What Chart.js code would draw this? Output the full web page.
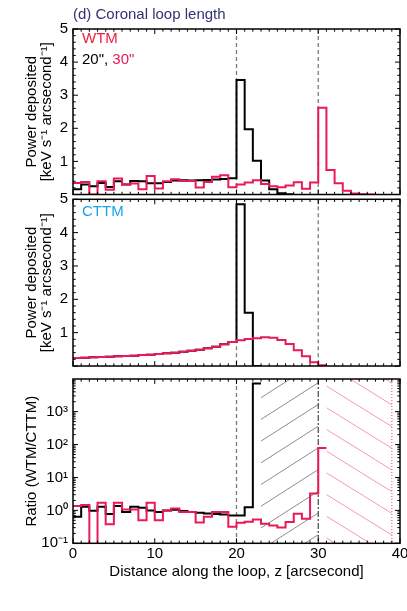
<!DOCTYPE html>
<html><head><meta charset="utf-8">
<script src="https://cdn.jsdelivr.net/npm/chart.js@4.4.1/dist/chart.umd.min.js"></script>
<style>
html,body{margin:0;padding:0;background:#fff;}
body{width:407px;height:611px;position:relative;overflow:hidden;font-family:"Liberation Sans",Arial,Helvetica,sans-serif;}
canvas{position:absolute;left:0;}
.lbl{position:absolute;font-size:15px;line-height:15px;white-space:nowrap;}
</style></head><body>
<canvas id="c1" width="407" height="212" style="top:0"></canvas>
<canvas id="c2" width="407" height="196" style="top:180px"></canvas>
<canvas id="c3" width="407" height="256" style="top:355px"></canvas>
<div class="lbl" style="left:73px;top:6px;color:#323278">(d) Coronal loop length</div>
<div class="lbl" style="left:82px;top:30px;color:#ee1d3c">WTM</div>
<div class="lbl" style="left:82px;top:51px;color:#000">20",&nbsp;<span style="color:#e91a56">30"</span></div>
<div class="lbl" style="left:82px;top:203px;color:#1aa3e6">CTTM</div>
<script>
// ---- data (bins of 1 arcsec starting at z = 0) ----
const wtm20 = [0.16,0.30,0.25,0.35,0.23,0.40,0.30,0.41,0.40,0.34,
               0.34,0.38,0.42,0.43,0.42,0.43,0.44,0.45,0.47,0.49,
               3.46,1.97,1.02,0.42,0.16,0.04,0.01];
const wtm30 = [0.35,0.38,0.00,0.40,0.14,0.48,0.30,0.33,0.16,0.56,
               0.18,0.40,0.46,0.41,0.41,0.21,0.38,0.54,0.58,0.22,
               0.30,0.36,0.43,0.32,0.25,0.22,0.27,0.37,0.17,0.36,
               2.62,0.74,0.34,0.11,0.03,0.01,0.00];
const cttm20 = [0.24,0.25,0.26,0.27,0.28,0.29,0.30,0.31,0.33,0.34,
                0.36,0.38,0.40,0.43,0.46,0.49,0.53,0.58,0.65,0.72,
                4.85,1.60,0.00];
const cttm30 = [0.24,0.25,0.26,0.27,0.28,0.29,0.30,0.31,0.33,0.34,
                0.36,0.38,0.40,0.43,0.46,0.49,0.53,0.58,0.65,0.72,
                0.77,0.81,0.83,0.86,0.85,0.78,0.66,0.47,0.29,0.11,0.02];
const ratio20 = [0.64,1.29,0.98,1.30,0.77,1.35,0.90,1.30,1.20,1.00,
                 0.90,1.00,1.05,0.95,0.90,0.85,0.80,0.78,0.75,0.70,
                 0.70,1.25,7200];
const ratio30 = [1.35,1.45,0.05,1.70,0.38,1.70,1.07,1.07,0.50,1.70,
                 0.50,1.00,1.15,0.90,0.90,0.43,0.64,0.90,0.90,0.32,
                 0.42,0.45,0.53,0.39,0.35,0.30,0.44,0.79,0.56,3.27,79];
const xTickValues = [0,10,20,30,40];
const linTickValues = [1,2,3,4,5];
const logTickValues = [0.1,1,10,100,1000];
const logTickLabels = ['10\u207B\u00B9','10\u2070','10\u00B9','10\u00B2','10\u00B3'];
const loopLines = [20,30];
const ratioLines = [20,30,39];
const hatch20 = [23,30];
const hatch30 = [31,39];

// ---- helpers ----
const RED = '#e91a56', BLACK = '#000000';
function steps(vals){
  const pts = vals.map((v,i)=>({x:i,y:v}));
  pts.push({x:vals.length,y:vals[vals.length-1]});
  return pts;
}
function hist(vals,color,order){
  return {data:steps(vals),borderColor:color,borderWidth:2,pointRadius:0,stepped:true,fill:false,order:order,tension:0};
}
const xMinor=[]; for(let v=1;v<40;v++) if(v%10) xMinor.push(v);
const linMinor=[]; for(let k=1;k<25;k++) if(k%5) linMinor.push(k/5);
const logMinor=[]; logTickValues.forEach(d=>{for(let m=2;m<=9;m++) if(d*m<9800) logMinor.push(d*m);});

Chart.defaults.color='#000';
Chart.defaults.font.family='"Liberation Sans", Arial, Helvetica, sans-serif';
Chart.defaults.font.size=15;

const frameTicks={
  id:'frameTicks',
  afterDatasetsDraw(chart,args,o){
    const {ctx,chartArea:a,scales:{x,y}}=chart;
    ctx.save();
    ctx.strokeStyle='#000'; ctx.lineWidth=1;
    const tx=(vals,len)=>vals.forEach(v=>{
      const p=x.getPixelForValue(v);
      ctx.beginPath();ctx.moveTo(p,a.bottom);ctx.lineTo(p,a.bottom-len);
      ctx.moveTo(p,a.top);ctx.lineTo(p,a.top+len);ctx.stroke();});
    const ty=(vals,len)=>vals.forEach(v=>{
      const p=y.getPixelForValue(v);
      ctx.beginPath();ctx.moveTo(a.left,p);ctx.lineTo(a.left+len,p);
      ctx.moveTo(a.right,p);ctx.lineTo(a.right-len,p);ctx.stroke();});
    tx(o.xMajor,5);tx(o.xMinor,2.7);ty(o.yMajor,5);ty(o.yMinor,2.7);
    ctx.lineWidth=1.5;
    ctx.strokeRect(a.left,a.top,a.right-a.left,a.bottom-a.top);
    ctx.restore();
  }
};
const vlines={
  id:'vlines',
  beforeDatasetsDraw(chart,args,o){
    const {ctx,chartArea:a,scales:{x}}=chart;
    o.lines.forEach(l=>{
      const p=x.getPixelForValue(l.x);
      ctx.save();ctx.strokeStyle=l.color;ctx.lineWidth=l.width;ctx.setLineDash(l.dash);
      ctx.beginPath();ctx.moveTo(p,a.top);ctx.lineTo(p,a.bottom);ctx.stroke();ctx.restore();
    });
  }
};
const hatch={
  id:'hatch',
  beforeDatasetsDraw(chart,args,o){
    const {ctx,chartArea:a,scales:{x}}=chart;
    (o.regions||[]).forEach(r=>{
      const x1=x.getPixelForValue(r.range[0]), x2=x.getPixelForValue(r.range[1]);
      const w=x2-x1, m=r.slope, sp=r.spacing;
      ctx.save();
      ctx.beginPath();ctx.rect(x1,a.top,w,a.bottom-a.top);ctx.clip();
      ctx.strokeStyle=r.color;ctx.lineWidth=0.8;
      const phase=a.top+r.offset;
      const cMin=a.top-m*w-sp, cMax=a.bottom+m*w+sp;
      let c=phase-Math.ceil((phase-cMin)/sp)*sp;
      for(;c<=cMax;c+=sp){
        ctx.beginPath();ctx.moveTo(x1,c);ctx.lineTo(x2,c+r.dir*m*w);ctx.stroke();
      }
      ctx.restore();
    });
  }
};

function yLin(title){
  return {type:'linear',min:0,max:5,
    afterBuildTicks:s=>{s.ticks=linTickValues.map(v=>({value:v}));},
    afterFit:s=>{s.width=73;s.paddingTop=0;s.paddingBottom=0;},
    grid:{display:false,drawTicks:false},border:{display:false},
    ticks:{padding:5,autoSkip:false},
    title:{display:true,text:title,font:{size:15,lineHeight:1},padding:{top:24.5,bottom:0}}};
}
const xHidden={type:'linear',min:0,max:40,display:false};
const dashGray={color:'#7a7a7a',width:1.3,dash:[4,3]};
const powerTitle=['Power deposited','[keV s\u207B\u00B9 arcsecond\u207B\u00B9]'];

function common(padTop,padBottom,extraPlugins){
  return {responsive:false,animation:false,events:[],
    layout:{padding:{top:padTop,bottom:padBottom,left:0,right:7}},
    plugins:Object.assign({legend:{display:false},tooltip:{enabled:false}},extraPlugins)};
}

// Top panel: WTM
new Chart(document.getElementById('c1'),{
  type:'line',
  data:{datasets:[hist(wtm30,RED,0),hist(wtm20,BLACK,1)]},
  options:Object.assign(common(29,17.5,{
    frameTicks:{xMajor:xTickValues,xMinor:xMinor,yMajor:[0].concat(linTickValues),yMinor:linMinor},
    vlines:{lines:loopLines.map(v=>Object.assign({x:v},dashGray))}
  }),{scales:{x:xHidden,y:yLin(powerTitle)}}),
  plugins:[vlines,frameTicks]
});

// Middle panel: CTTM
new Chart(document.getElementById('c2'),{
  type:'line',
  data:{datasets:[hist(cttm30,RED,0),hist(cttm20,BLACK,1)]},
  options:Object.assign(common(19.3,10,{
    frameTicks:{xMajor:xTickValues,xMinor:xMinor,yMajor:[0].concat(linTickValues),yMinor:linMinor},
    vlines:{lines:loopLines.map(v=>Object.assign({x:v},dashGray))}
  }),{scales:{x:xHidden,y:yLin(powerTitle)}}),
  plugins:[vlines,frameTicks]
});

// Bottom panel: ratio
const ratioStyles=[dashGray,{color:'#444',width:1.2,dash:[6,2,2,2]},{color:'#f0609a',width:1.2,dash:[1,2]}];
new Chart(document.getElementById('c3'),{
  type:'line',
  data:{datasets:[hist(ratio30,RED,0),hist(ratio20,BLACK,1)]},
  options:Object.assign(common(24,0,{
    frameTicks:{xMajor:xTickValues,xMinor:xMinor,yMajor:logTickValues,yMinor:logMinor},
    vlines:{lines:ratioLines.map((v,i)=>Object.assign({x:v},ratioStyles[i]))},
    hatch:{regions:[
      {range:hatch20,color:'#707070',slope:0.64,spacing:21.7,offset:18.7,dir:-1},
      {range:hatch30,color:'#f27fa5',slope:0.62,spacing:21.7,offset:7,dir:1}
    ]}
  }),{scales:{
    x:{type:'linear',min:0,max:40,
      afterBuildTicks:s=>{s.ticks=xTickValues.map(v=>({value:v}));},
      afterFit:s=>{s.height=67.7;s.paddingLeft=0;s.paddingRight=0;},
      grid:{display:false,drawTicks:false},border:{display:false},
      ticks:{padding:2,maxRotation:0,autoSkip:false},
      title:{display:true,text:'Distance along the loop, z [arcsecond]',padding:{top:0,bottom:30.3}}},
    y:{type:'logarithmic',min:0.1,max:9800,
      afterBuildTicks:s=>{s.ticks=logTickValues.map(v=>({value:v}));},
      afterFit:s=>{s.width=73;s.paddingTop=0;s.paddingBottom=0;},
      grid:{display:false,drawTicks:false},border:{display:false},
      ticks:{padding:5,autoSkip:false,callback:(v,i)=>logTickLabels[i]},
      title:{display:true,text:'Ratio (WTM/CTTM)',font:{size:15,lineHeight:1},padding:{top:24.5,bottom:0}}}
  }}),
  plugins:[hatch,vlines,frameTicks]
});
</script>
</body></html>
